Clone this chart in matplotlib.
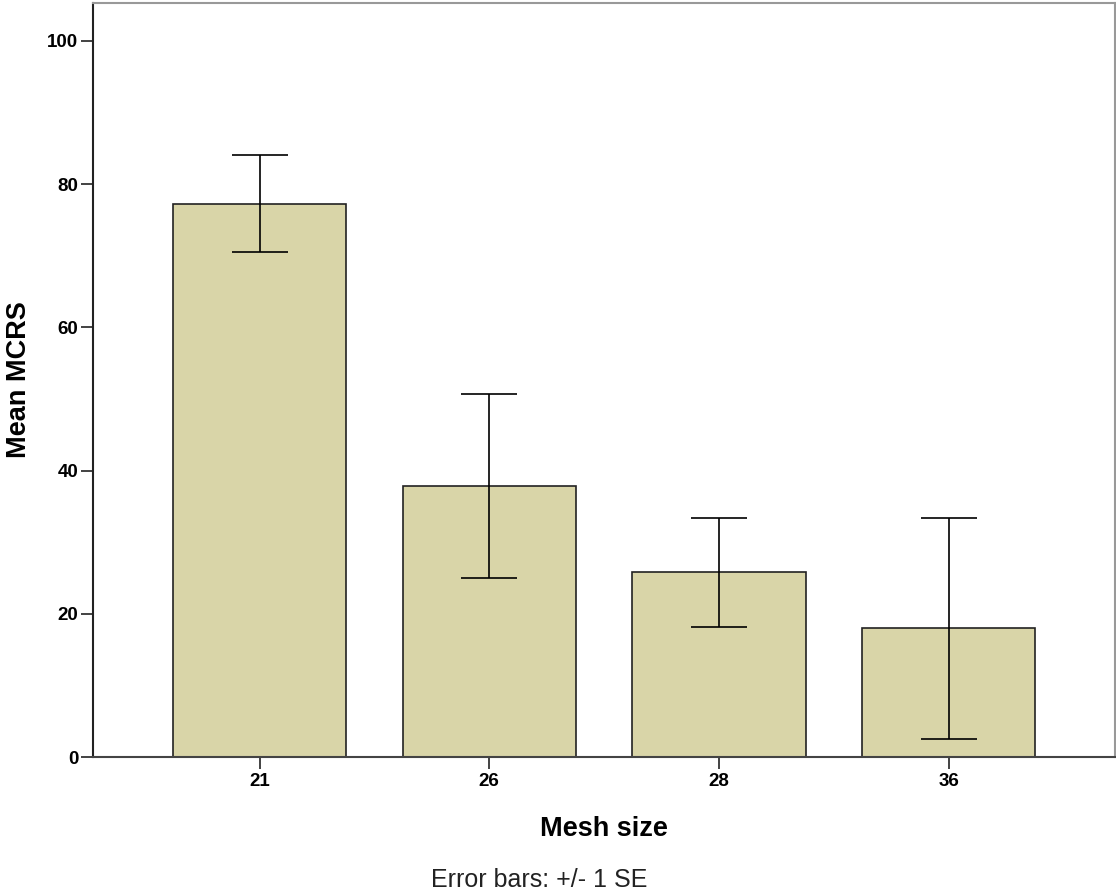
import matplotlib.pyplot as plt
import numpy as np

plt.rcParams['font.family'] = ['Liberation Sans', 'DejaVu Sans']

# mesh size groups and mean MCRS with +/- 1 SE
mesh = ['21', '26', '28', '36']
means = [77.2, 37.8, 25.8, 18.0]
upper = [84.1, 50.7, 33.4, 33.4]
lower = [70.5, 25.0, 18.2, 2.5]

err = [np.array(means) - np.array(lower), np.array(upper) - np.array(means)]

fig = plt.figure(figsize=(11.16, 8.96), dpi=100)
ax = fig.add_axes([0.0833, 0.155, 0.916, 0.8417])

x = np.arange(len(mesh))
ax.bar(x, means, width=0.754, color='#D9D5A8', edgecolor='#222222', linewidth=1.2, zorder=2)
ax.errorbar(x, means, yerr=err, fmt='none', ecolor='black', elinewidth=1.2,
            capsize=20, capthick=1.2, zorder=3)

ax.set_xlim(-0.725, 3.725)
ax.set_ylim(0, 105.3)
ax.set_xticks(x)
ax.set_xticklabels(mesh)
ax.set_yticks([0, 20, 40, 60, 80, 100])

for lab in ax.get_xticklabels() + ax.get_yticklabels():
    lab.set_fontweight('bold')
    lab.set_fontsize(13.5)
ax.tick_params(axis='both', direction='out', length=8.5, width=1.2, color='#222222')
ax.tick_params(axis='x', pad=3)
ax.tick_params(axis='y', pad=2)

ax.spines['left'].set_color('#222222')
ax.spines['bottom'].set_color('#444444')
ax.spines['top'].set_color('#999999')
ax.spines['right'].set_color('#999999')
for s in ax.spines.values():
    s.set_linewidth(1.5)

ax.set_xlabel('Mesh size', fontsize=19.5, fontweight='bold', labelpad=19)
ax.set_ylabel('Mean MCRS', fontsize=19.5, fontweight='bold', labelpad=11)

fig.text(0.483, 0.004, 'Error bars: +/- 1 SE', ha='center', va='bottom', fontsize=18, color='#222222')

fig.savefig('out.png', dpi=100)
